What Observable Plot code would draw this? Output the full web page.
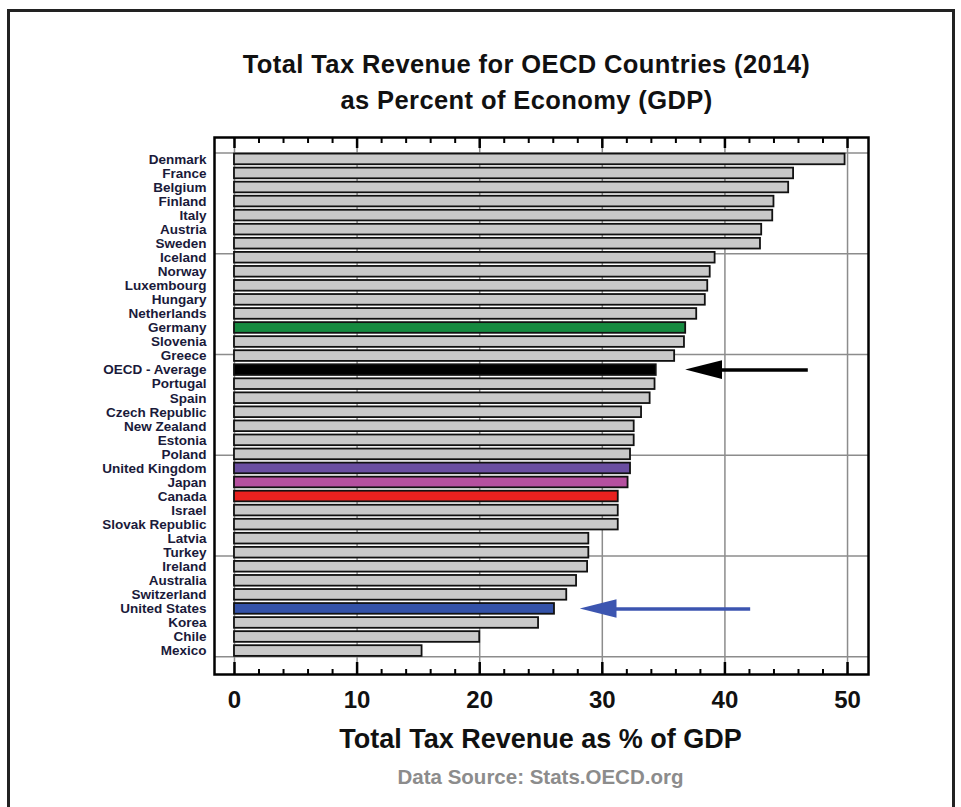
<!DOCTYPE html>
<html><head><meta charset="utf-8">
<script src="https://cdn.jsdelivr.net/npm/d3@7"></script>
<script src="https://cdn.jsdelivr.net/npm/@observablehq/plot@0.6"></script>
<style>
body{margin:0;background:#fff;}
#wrap{position:relative;width:961px;height:807px;overflow:hidden;font-family:"Liberation Sans",Arial,sans-serif;}
#border{position:absolute;left:7px;top:9px;width:942px;height:830px;border:3px solid #222;}
#chart{position:absolute;left:0;top:0;}
.t{position:absolute;left:60px;width:961px;text-align:center;font-weight:bold;color:#111;white-space:nowrap;}
#t1{top:50px;font-size:25.5px;letter-spacing:0.4px;left:46px;}
#t2{top:86px;font-size:25.5px;letter-spacing:0.4px;left:46px;}
#xl{top:724px;font-size:27px;}
#src{top:765px;font-size:20.5px;color:#8c8c8c;}
</style></head>
<body><div id="wrap">
<div id="border"></div>
<div id="chart"></div>
<div class="t" id="t1">Total Tax Revenue for OECD Countries (2014)</div>
<div class="t" id="t2">as Percent of Economy (GDP)</div>
<div class="t" id="xl">Total Tax Revenue as % of GDP</div>
<div class="t" id="src">Data Source: Stats.OECD.org</div>
</div>
<script>
const countries = ["Denmark","France","Belgium","Finland","Italy","Austria","Sweden","Iceland","Norway","Luxembourg","Hungary","Netherlands","Germany","Slovenia","Greece","OECD - Average","Portugal","Spain","Czech Republic","New Zealand","Estonia","Poland","United Kingdom","Japan","Canada","Israel","Slovak Republic","Latvia","Turkey","Ireland","Australia","Switzerland","United States","Korea","Chile","Mexico"];
const revenue = [49.8,45.6,45.2,44.0,43.9,43.0,42.9,39.2,38.8,38.6,38.4,37.7,36.8,36.7,35.9,34.4,34.3,33.9,33.2,32.6,32.6,32.3,32.3,32.1,31.3,31.3,31.3,28.9,28.9,28.8,27.9,27.1,26.1,24.8,20.0,15.3];
const xTicks = [0,10,20,30,40,50];
const xMinorTicks = [2,4,6,8,12,14,16,18,22,24,26,28,32,34,36,38,42,44,46,48];
const yGrid = [-0.46,6.72,13.89,21.06,28.24,35.41];
// annotation arrows
const arrowRows = ["OECD - Average","United States"];
const arrowFrom = [46.8,42.1];
const arrowTo = [36.8,28.2];

const highlightColor = {"Germany":"#168a40","OECD - Average":"#000000","United Kingdom":"#6a4ea0","Japan":"#b5509f","Canada":"#e8211f","United States":"#3452a8"};
const arrowColor = {"OECD - Average":"#000000","United States":"#3c55b0"};

const rows = countries.map((c,i)=>({country:c, idx:i, value:revenue[i]}));
const arrows = arrowRows.map((c,k)=>({country:c, idx:countries.indexOf(c), from:arrowFrom[k], to:arrowTo[k]}));
const headLen = 3.0, headHalf = 0.66;
const heads = arrows.flatMap(a=>[
  {country:a.country, x:a.to, y1:a.idx, y2:a.idx},
  {country:a.country, x:a.to+headLen, y1:a.idx-headHalf, y2:a.idx+headHalf}
]);

const W = 961, H = 807, mT = 137, mB = 133;
const inner = H - mT - mB;

const chart = Plot.plot({
  width: W, height: H,
  marginTop: mT, marginBottom: mB, marginLeft: 214, marginRight: 93,
  x: {domain: [-1.63, 51.71], axis: null},
  y: {domain: [-1.56, 36.67], reverse: true, axis: null},
  style: {fontFamily: '"Liberation Sans", Arial, sans-serif', background: "transparent"},
  marks: [
    Plot.ruleX(xTicks, {stroke: "#8c8c8c", strokeWidth: 1.5}),
    Plot.ruleY(yGrid, {stroke: "#8c8c8c", strokeWidth: 1.5}),
    Plot.rect(rows, {x1: 0, x2: "value", y1: d=>d.idx-0.38, y2: d=>d.idx+0.38,
      fill: d=>highlightColor[d.country] || "#c9c9c9", stroke: "#111", strokeWidth: 1.8}),
    Plot.ruleY(arrows, {y: "idx", x1: d=>d.to+headLen-0.2, x2: "from", stroke: d=>arrowColor[d.country], strokeWidth: 3.5}),
    Plot.areaY(heads, {x: "x", y1: "y1", y2: "y2", z: "country", fill: d=>arrowColor[d.country]}),
    // inward tick marks
    Plot.ruleX(xTicks, {stroke: "#000", strokeWidth: 2.5, insetTop: inner-12}),
    Plot.ruleX(xMinorTicks, {stroke: "#000", strokeWidth: 2, insetTop: inner-5}),
    Plot.ruleX(xTicks, {stroke: "#000", strokeWidth: 2.5, insetBottom: inner-11}),
    Plot.ruleX(xMinorTicks, {stroke: "#000", strokeWidth: 2, insetBottom: inner-6}),
    Plot.frame({stroke: "#000", strokeWidth: 2.5}),
    Plot.axisX(xTicks, {anchor: "bottom", tickSize: 0, tickPadding: 16, fontSize: 24, fontWeight: "bold",
      fontFamily: '"Liberation Sans Narrow", "Liberation Sans", Arial, sans-serif', fill: "#111", label: null}),
    Plot.axisY(rows.map(d=>d.idx), {anchor: "left", tickSize: 0, tickPadding: 8, tickFormat: i=>countries[i],
      fontSize: 13.5, fontWeight: "bold", fill: "#1a1a3a", label: null})
  ]
});
document.getElementById("chart").appendChild(chart);
</script>
</body></html>
